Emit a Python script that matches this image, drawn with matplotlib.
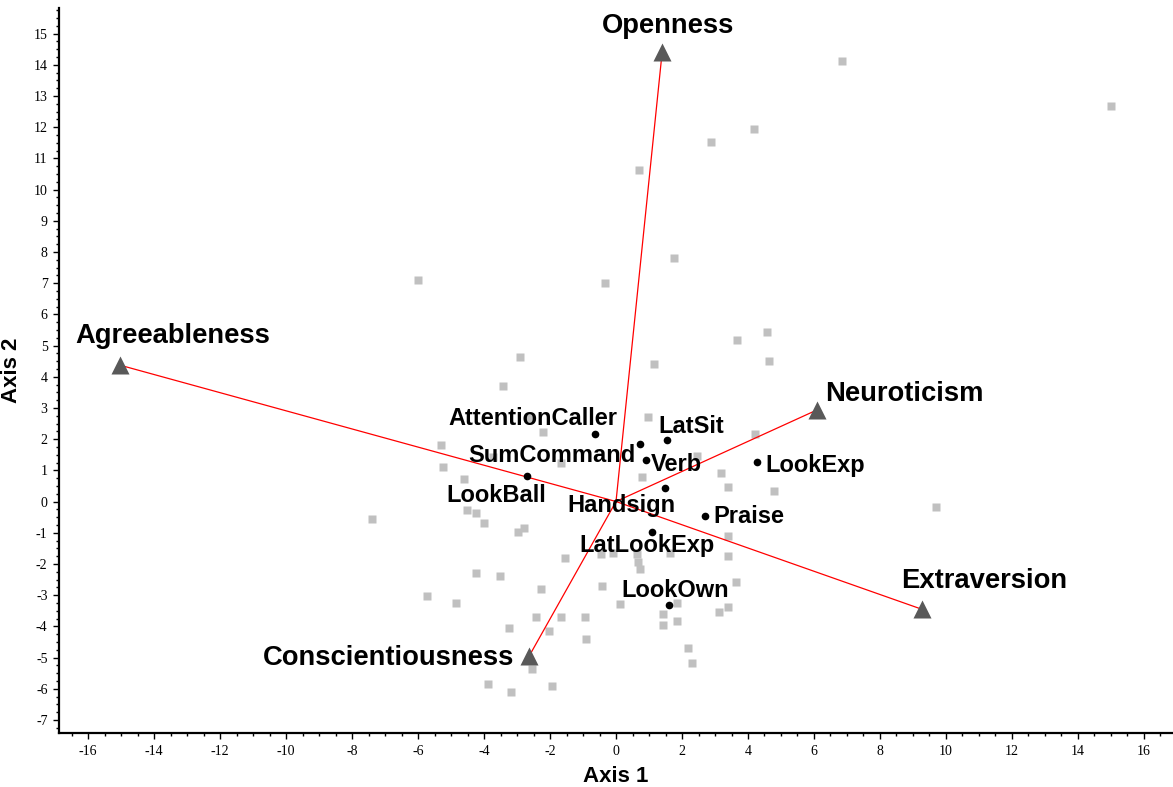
import matplotlib
matplotlib.use("Agg")
from matplotlib import pyplot as plt
from matplotlib.ticker import MultipleLocator

# case scores (grey squares)
case_x = [0.69, 2.89, 4.17, 1.75, -0.34, -6.01, 4.58, 6.85, 15.0, 9.70,
          -2.91, -3.43, 3.66, 1.15, 4.65, 0.98, -2.61, -2.22, -5.30, -3.72,
          -1.67, -5.23, -4.61, 2.45, 4.21, 0.80, 3.18, 3.40, 4.80, -7.40,
          -4.51, -4.25, -3.99, -2.78, -2.98, 3.40, 3.40, -1.55, -0.46, -0.08,
          0.65, 1.64, 0.68, 0.73, -4.24, -3.51, 3.63, -2.26, -0.42, -5.72,
          -4.84, 0.12, 1.84, 1.43, 3.38, 3.13, -2.43, -1.68, -0.94, 1.43,
          1.84, -3.24, -2.03, -0.90, 2.19, 2.31, -2.55, -3.87, -3.18, -1.93]
case_y = [10.63, 11.53, 11.93, 7.81, 6.99, 7.11, 5.43, 14.12, 12.68, -0.17,
          4.62, 3.70, 5.18, 4.40, 4.50, 2.72, 2.67, 2.22, 1.82, 1.44,
          1.24, 1.10, 0.71, 1.46, 2.15, 0.79, 0.92, 0.47, 0.35, -0.57,
          -0.27, -0.38, -0.70, -0.86, -0.97, -1.11, -1.75, -1.82, -1.68, -1.64,
          -1.68, -1.64, -1.93, -2.17, -2.28, -2.38, -2.59, -2.79, -2.71, -3.03,
          -3.26, -3.29, -3.26, -3.61, -3.37, -3.53, -3.69, -3.69, -3.69, -3.96,
          -3.83, -4.04, -4.15, -4.42, -4.69, -5.17, -5.37, -5.86, -6.10, -5.90]

# behaviour variables (black dots)
var_names = ["AttentionCaller", "SumCommand", "LatSit", "Verb", "LookExp",
             "LookBall", "Handsign", "Praise", "LatLookExp", "LookOwn"]
var_x = [-0.63, 0.74, 1.55, 0.91, 4.26, -2.71, 1.47, 2.71, 1.09, 1.62]
var_y = [2.17, 1.83, 1.96, 1.34, 1.28, 0.83, 0.43, -0.48, -0.98, -3.33]

# personality vectors (triangles)
trait_names = ["Openness", "Agreeableness", "Neuroticism", "Extraversion", "Conscientiousness"]
trait_x = [1.40, -15.03, 6.08, 9.26, -2.63]
trait_y = [14.42, 4.37, 2.93, -3.45, -4.95]

# label placement (pixel offsets, ha)
var_lab = {"AttentionCaller": (-62, 9, "center"), "SumCommand": (-89, -18, "center"),
           "LatSit": (24, 7, "center"), "Verb": (5, -11, "left"),
           "LookExp": (9, -10, "left"), "LookBall": (-30, -26, "center"),
           "Handsign": (-43, -24, "center"), "Praise": (8, -7, "left"),
           "LatLookExp": (-5, -20, "center"), "LookOwn": (6, 8, "center")}
trait_lab = {"Openness": (6, 19, "center"), "Agreeableness": (53, 22, "center"),
             "Neuroticism": (8, 9, "left"), "Extraversion": (63, 21, "center"),
             "Conscientiousness": (-15, -9, "right")}

plt.rcParams['font.family'] = ['Liberation Sans', 'DejaVu Sans']
plt.rcParams['axes.unicode_minus'] = False

fig = plt.figure(figsize=(11.73, 7.87), dpi=100)
ax = fig.add_axes([0.0506, 0.0686, 0.9494, 0.9209])

ax.plot(case_x, case_y, 's', color='#c0c0c0', ms=6, mec='none', zorder=1)
for tx, ty in zip(trait_x, trait_y):
    ax.plot([0, tx], [0, ty], color='red', lw=0.9, zorder=2)
ax.plot(trait_x, trait_y, '^', color='#595959', ms=12.5, mec='none', zorder=3)
ax.plot(var_x, var_y, 'o', color='black', ms=5.5, mec='none', zorder=4)

for n, x, y in zip(var_names, var_x, var_y):
    dx, dy, ha = var_lab[n]
    ax.annotate(n, (x, y), xytext=(dx, dy), textcoords='offset pixels',
                ha=ha, va='baseline', fontsize=17, fontweight='bold', zorder=5)
for n, x, y in zip(trait_names, trait_x, trait_y):
    dx, dy, ha = trait_lab[n]
    ax.annotate(n, (x, y), xytext=(dx, dy), textcoords='offset pixels',
                ha=ha, va='baseline', fontsize=19.7, fontweight='bold', zorder=5)

ax.set_xlim(-16.87, 16.88)
ax.set_ylim(-7.42, 15.81)
ax.xaxis.set_major_locator(MultipleLocator(2))
ax.xaxis.set_minor_locator(MultipleLocator(0.5))
ax.yaxis.set_major_locator(MultipleLocator(1))
ax.yaxis.set_minor_locator(MultipleLocator(0.25))
for s in ['top', 'right']:
    ax.spines[s].set_visible(False)
for s in ['left', 'bottom']:
    ax.spines[s].set_linewidth(1.6)
ax.tick_params(which='major', length=4.5, width=1, pad=4, labelsize=10)
ax.tick_params(which='minor', length=2.5, width=1)
for lab in ax.get_xticklabels() + ax.get_yticklabels():
    lab.set_fontfamily('Liberation Serif')

ax.set_xlabel('Axis 1', fontsize=16, fontweight='bold', labelpad=6)
ax.set_ylabel('Axis 2', fontsize=16, fontweight='bold', labelpad=8)

fig.savefig('out.png', dpi=100)
